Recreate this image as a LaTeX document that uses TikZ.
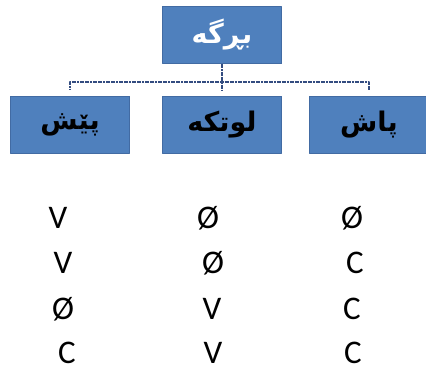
\documentclass[tikz,border=0pt]{standalone}
\usepackage{fontspec}
\setmainfont{Carlito}
\newfontfamily\arabicfont[Script=Arabic]{DejaVu Sans}
\TeXXeTstate=1
\usepackage{tikz}
\definecolor{boxblue}{rgb}{0.31,0.5,0.74}
\definecolor{boxline}{rgb}{0.26,0.42,0.64}
\definecolor{connblue}{rgb}{0.2,0.3,0.5}
\newcommand{\kurd}[1]{\raisebox{-5pt}{\beginR #1\endR}}
\tikzset{
  termbox/.style={draw=boxline,fill=boxblue,minimum width=119pt,minimum height=57pt,inner sep=0pt,font=\arabicfont\bfseries\fontsize{27}{30}\selectfont},
  conn/.style={line width=1.6pt,color=connblue,dash pattern=on 2pt off 0.6pt,shorten >=6pt},
  letter/.style={font=\fontsize{33}{38}\selectfont,inner sep=0pt,anchor=base}
}
\begin{document}
\begin{tikzpicture}[line cap=butt,line join=round,x=1pt,y=-1pt]
		\useasboundingbox (0,0) rectangle (426,370);
		\node[termbox,text=white] (word) at (222,35) {\kurd{بڕگە}};
		\node[termbox] (pre) at (70,124.5) {\kurd{پێش}};
		\node[termbox] (mid) at (222,124.5) {\kurd{لوتکە}};
		\node[termbox] (post) at (369,124.5) {\kurd{پاش}};
		\coordinate (bar) at (222,82);
		\draw [conn] (word.south) -- (mid.north);
		\draw [conn] (bar) -| (pre.north);
		\draw [conn] (bar) -| (post.north);
		\node[letter] (a1) at (58,228) {V};
		\node[letter] (b1) at (208,228) {Ø};
		\node[letter] (c1) at (352,228) {Ø};
		\node[letter] (a2) at (63,273) {V};
		\node[letter] (b2) at (213,273) {Ø};
		\node[letter] (c2) at (355,273) {C};
		\node[letter] (a3) at (63,319) {Ø};
		\node[letter] (b3) at (212,319) {V};
		\node[letter] (c3) at (352,319) {C};
		\node[letter] (a4) at (67,363) {C};
		\node[letter] (b4) at (213,363) {V};
		\node[letter] (c4) at (353,363) {C};
\end{tikzpicture}
\end{document}
